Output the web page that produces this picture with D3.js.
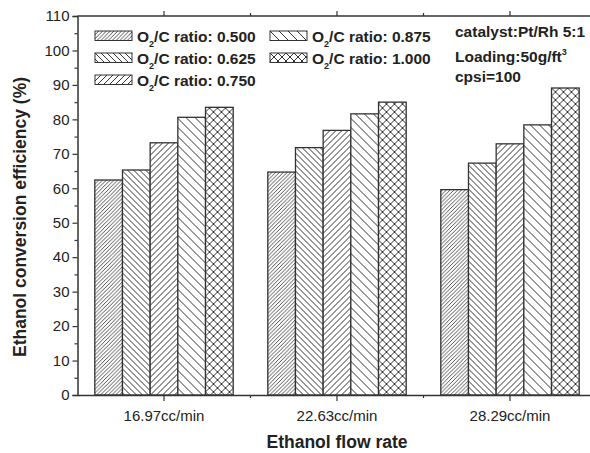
<!DOCTYPE html>
<html>
<head>
<meta charset="utf-8">
<script src="https://cdn.jsdelivr.net/npm/d3@7"></script>
<style>
  html, body { margin: 0; padding: 0; background: #fff; }
  svg { display: block; font-family: "Liberation Sans", Arial, sans-serif; }
</style>
</head>
<body>
<svg id="chart" width="590" height="453"></svg>
<script>
// Ethanol flow rate categories
const categories = ["16.97cc/min", "22.63cc/min", "28.29cc/min"];
// O2/C ratio series names
const ratios = ["0.500", "0.625", "0.750", "0.875", "1.000"];
// Conversion efficiency (%) for each ratio, per flow rate
const ratio0500 = [62.4, 64.7, 59.6];
const ratio0625 = [65.3, 71.8, 67.3];
const ratio0750 = [73.2, 76.8, 72.9];
const ratio0875 = [80.6, 81.6, 78.4];
const ratio1000 = [83.5, 85.0, 89.1];
const seriesValues = [ratio0500, ratio0625, ratio0750, ratio0875, ratio1000];
// Axis ticks
const yTicks = [0, 10, 20, 30, 40, 50, 60, 70, 80, 90, 100, 110];
const yMinorTicks = [5, 15, 25, 35, 45, 55, 65, 75, 85, 95, 105];

const svg = d3.select("#chart");
const ink = "#333";
const textInk = "#222";

const plotLeft = 77.5, plotRight = 596.5, plotTop = 16, plotBottom = 395;

const x = d3.scaleBand().domain(categories).range([plotLeft, plotRight]).paddingInner(0).paddingOuter(0);
const bw = x.bandwidth();
const xInner = d3.scaleBand().domain(ratios).range([bw * 0.1, bw * 0.9]);
const y = d3.scaleLinear().domain([0, 110]).range([plotBottom, plotTop]);

// Hatch patterns, one per series
const defs = svg.append("defs");
function hatch(id, size, dirs, sw) {
  const p = defs.append("pattern")
    .attr("id", id).attr("patternUnits", "userSpaceOnUse")
    .attr("width", size).attr("height", size);
  p.append("rect").attr("width", size).attr("height", size).attr("fill", "#fff");
  dirs.forEach(d => {
    const s = size;
    const paths = d === "fwd"
      ? `M0,${s} L${s},0 M${-s/2},${s/2} L${s/2},${-s/2} M${s/2},${s*1.5} L${s*1.5},${s/2}`
      : `M0,0 L${s},${s} M${-s/2},${s/2} L${s/2},${s*1.5} M${s/2},${-s/2} L${s*1.5},${s/2}`;
    p.append("path").attr("d", paths).attr("stroke", ink).attr("stroke-width", sw).attr("fill", "none");
  });
}
hatch("h0", 3.8, ["fwd"], 0.85);
hatch("h1", 6, ["back"], 1);
hatch("h2", 6, ["fwd"], 1);
hatch("h3", 9, ["back"], 1);
hatch("h4", 8, ["fwd", "back"], 1);

// Bars
const groups = svg.append("g").selectAll("g")
  .data(categories).join("g")
  .attr("transform", d => `translate(${x(d)},0)`);

groups.selectAll("rect")
  .data((c, ci) => ratios.map((r, ri) => ({ r, ri, v: seriesValues[ri][ci] })))
  .join("rect")
  .attr("x", d => xInner(d.r))
  .attr("y", d => y(d.v))
  .attr("width", xInner.bandwidth())
  .attr("height", d => y(0) - y(d.v))
  .attr("fill", d => `url(#h${d.ri})`)
  .attr("stroke", ink)
  .attr("stroke-width", 1.3);

// Y axis (left) with minor ticks
const yAxis = svg.append("g").attr("transform", `translate(${plotLeft},0)`)
  .call(d3.axisLeft(y).tickValues(yTicks).tickSize(5).tickPadding(3).tickFormat(d3.format("d")));
svg.append("g").attr("class", "minor-y").attr("transform", `translate(${plotLeft},0)`)
  .call(d3.axisLeft(y).tickValues(yMinorTicks).tickSize(3).tickFormat(""))
  .call(g => g.select(".domain").remove())
  .call(g => g.selectAll(".tick line").attr("stroke", ink).attr("stroke-width", 1.2));

// X axis (bottom): major ticks at category centres, minor between them
const xAxis = svg.append("g").attr("transform", `translate(0,${plotBottom})`)
  .call(d3.axisBottom(x).tickSize(6).tickPadding(9).tickSizeOuter(0));
const boundaries = categories.slice(1).map(c => x(c));
svg.append("g").attr("class", "minor-x").selectAll("line")
  .data(boundaries).join("line")
  .attr("x1", d => d).attr("x2", d => d)
  .attr("y1", plotBottom).attr("y2", plotBottom + 3)
  .attr("stroke", ink).attr("stroke-width", 1.2);

// Top and right frame with mirrored ticks
svg.append("line").attr("x1", plotLeft).attr("x2", plotRight).attr("y1", plotTop).attr("y2", plotTop)
  .attr("stroke", ink).attr("stroke-width", 1.5);
svg.append("line").attr("x1", plotRight).attr("x2", plotRight).attr("y1", plotTop).attr("y2", plotBottom)
  .attr("stroke", ink).attr("stroke-width", 1.5);
svg.append("g").selectAll("line")
  .data(categories.map(c => ({ px: x(c) + bw / 2, len: 5 })).concat(boundaries.map(b => ({ px: b, len: 3 }))))
  .join("line")
  .attr("x1", d => d.px).attr("x2", d => d.px)
  .attr("y1", plotTop).attr("y2", d => plotTop - d.len)
  .attr("stroke", ink).attr("stroke-width", 1.2);

[yAxis, xAxis].forEach(g => {
  g.select(".domain").attr("stroke", ink).attr("stroke-width", 1.5);
  g.selectAll(".tick line").attr("stroke", ink).attr("stroke-width", 1.2);
  g.selectAll(".tick text").attr("fill", textInk)
    .style("font-family", "'Liberation Sans', Arial, sans-serif").style("font-size", "15px");
});

// Axis titles
svg.append("text")
  .attr("x", 337)
  .attr("y", 448)
  .attr("text-anchor", "middle")
  .attr("font-weight", "bold").attr("font-size", "17.5px").attr("fill", textInk)
  .text("Ethanol flow rate");
svg.append("text")
  .attr("transform", "translate(26,217) rotate(-90)")
  .attr("text-anchor", "middle")
  .attr("font-weight", "bold").attr("font-size", "17.5px").attr("fill", textInk)
  .text("Ethanol conversion efficiency (%)");

// Legend: two columns of hatch swatches
const legendPos = [
  { px: 95, py: 31 }, { px: 95, py: 53 }, { px: 95, py: 75 },
  { px: 270, py: 31 }, { px: 270, py: 53 }
];
const legend = svg.append("g").selectAll("g")
  .data(ratios).join("g")
  .attr("transform", (d, i) => `translate(${legendPos[i].px},${legendPos[i].py})`);
legend.append("rect")
  .attr("width", 37).attr("height", 9.5)
  .attr("fill", (d, i) => `url(#h${i})`)
  .attr("stroke", ink).attr("stroke-width", 1);
const lt = legend.append("text")
  .attr("x", 42).attr("y", 10.5)
  .attr("font-weight", "bold").attr("font-size", "15.5px").attr("fill", textInk);
lt.append("tspan").text("O");
lt.append("tspan").attr("font-size", "9px").attr("dy", 5).text("2");
lt.append("tspan").attr("dy", -5).text(d => `/C ratio: ${d}`);

// Test conditions
const note = svg.append("g").attr("font-weight", "bold").attr("font-size", "15.5px").attr("fill", textInk);
note.append("text").attr("x", 455).attr("y", 37).text("catalyst:Pt/Rh 5:1");
const loading = note.append("text").attr("x", 455).attr("y", 62);
loading.append("tspan").text("Loading:50g/ft");
loading.append("tspan").attr("font-size", "9px").attr("dy", -7).text("3");
note.append("text").attr("x", 455).attr("y", 82).text("cpsi=100");
</script>
</body>
</html>
